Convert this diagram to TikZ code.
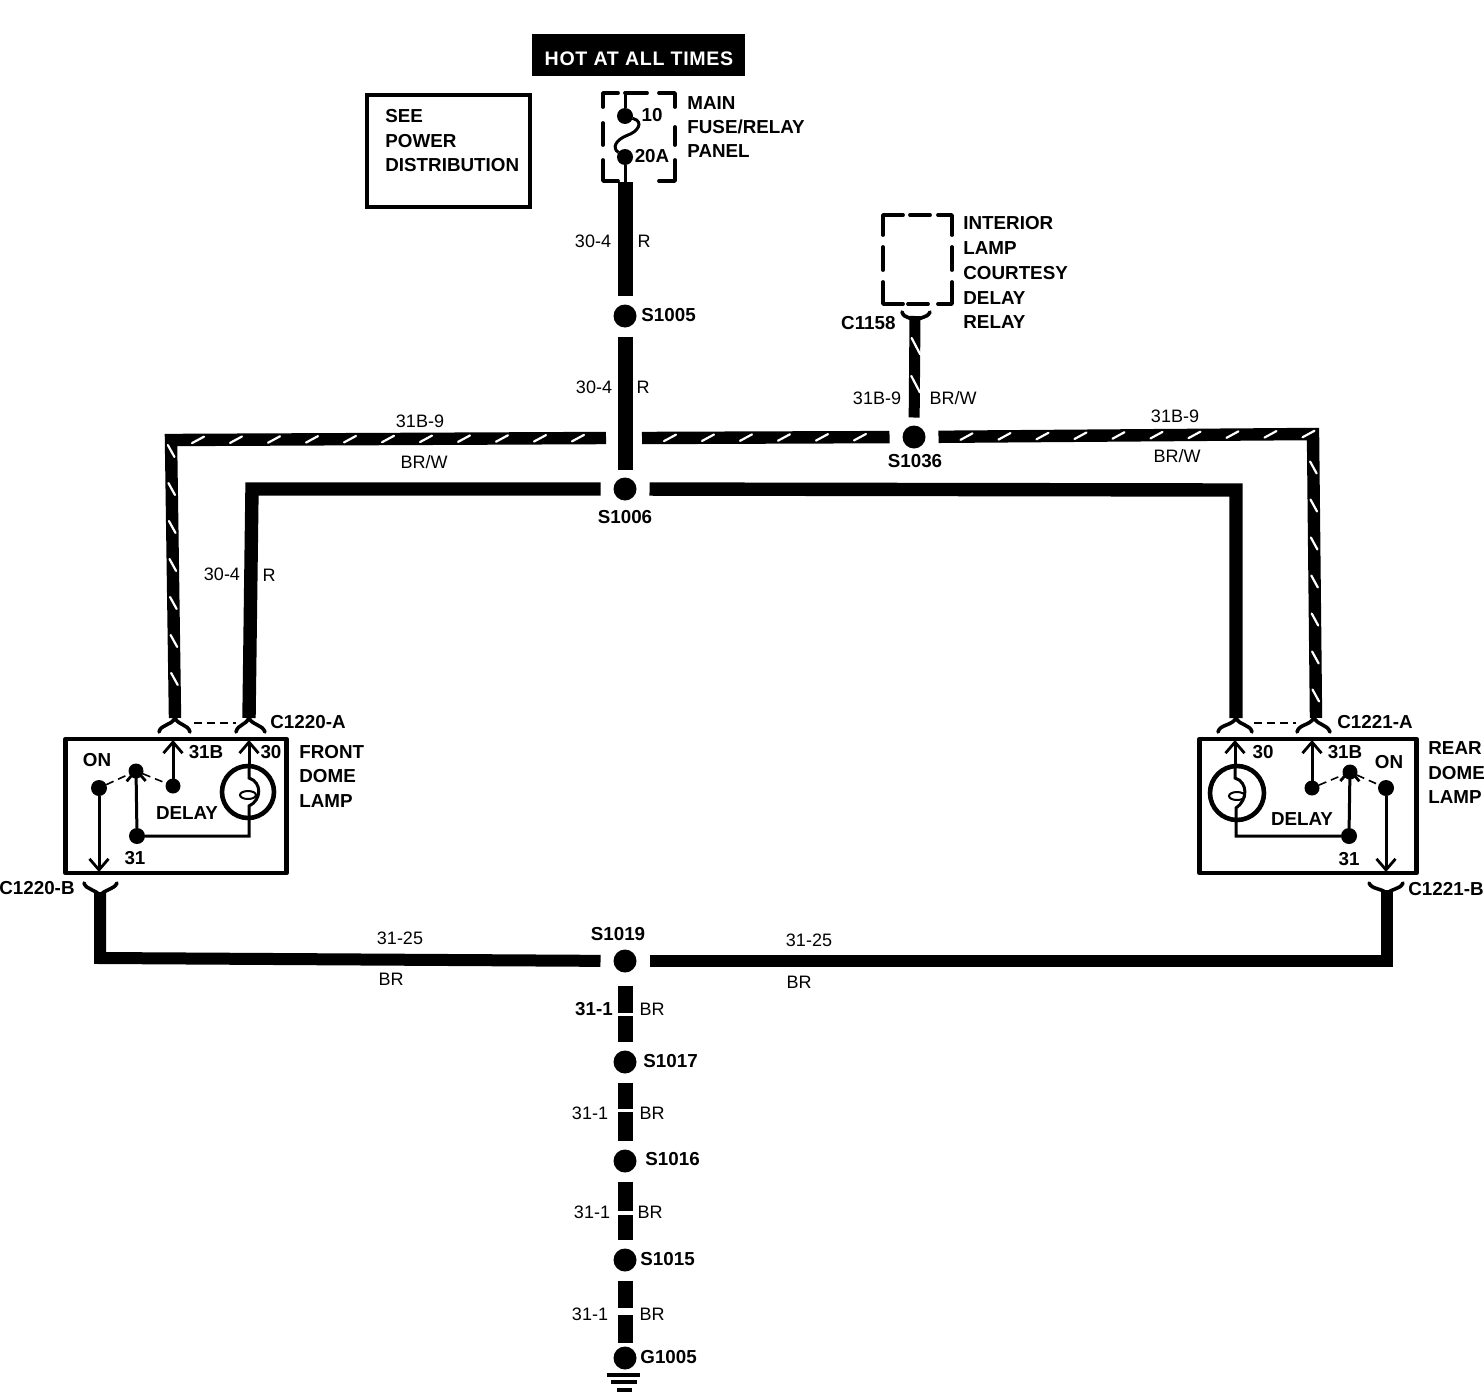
\documentclass[tikz,border=0pt]{standalone}
\usepackage{fontspec}
\setmainfont{Liberation Sans}
\usetikzlibrary{arrows.meta,decorations.markings}
\tikzset{
  x=0.5pt,y=-0.5pt,
  wire/.style={line width=7.5pt,line join=miter},
  wireh/.style={line width=6.7pt,line join=miter},
  stripewire/.style={line width=6.2pt,line join=miter},
  wirethin/.style={line width=6pt,line join=miter},
  striped/.style={postaction={decorate},decoration={markings,
    mark=between positions 14pt and -8pt step 19pt with {\draw[white,line width=1.1pt,line cap=round] (-3pt,-1.6pt)--(3pt,1.6pt);}}},
  splice/.style={circle,fill=black,draw=none,minimum size=11.5pt,inner sep=0pt,outer sep=4.5pt},
  splicewide/.style={splice,outer sep=6.5pt},
  gdot/.style={circle,fill=black,draw=none,minimum size=8pt,inner sep=0pt,outer sep=0pt},
  fork/.style={line width=1.8pt,line cap=round},
  boxline/.style={line width=2.2pt,line join=round},
  dashbox/.style={line width=1.9pt,line cap=round,line join=round},
  inner/.style={line width=1.5pt},
  barb/.style={inner,-{Straight Barb[length=5.5pt,width=9.5pt,line width=1.4pt]}},
  link/.style={line width=0.8pt,dash pattern=on 4pt off 2.5pt},
  lb/.style={inner sep=0pt,font=\fontsize{9.4pt}{10pt}\selectfont\bfseries},
  lr/.style={inner sep=0pt,font=\fontsize{9pt}{10pt}\selectfont},
}
\begin{document}
\begin{tikzpicture}
\useasboundingbox (0,0) rectangle (1484,1392);

% header
\node[fill=black,minimum width=106.5pt,minimum height=21pt,inner sep=0pt] (hot) at (638.5,55) {};
\node[text=white,inner sep=0pt,font=\fontsize{9.8pt}{10pt}\selectfont\bfseries] (hottext) at (639,59) {\addfontfeature{LetterSpace=3.5}HOT AT ALL TIMES};
\node[draw,line width=1.8pt,minimum width=81.5pt,minimum height=56pt,inner sep=0pt] (see) at (448.5,151) {};
\node[lb,anchor=west] (see1) at (385,116) {SEE};
\node[lb,anchor=west] (see2) at (385,141) {POWER};
\node[lb,anchor=west] (see3) at (385,165) {DISTRIBUTION};

% fuse panel
\draw[dashbox] (603,107)--(603,93)--(618,93);
\draw[dashbox] (625,93)--(647,93);
\draw[dashbox] (659,93)--(675,93)--(675,107);
\draw[dashbox] (603,123)--(603,145);
\draw[dashbox] (675,127)--(675,145);
\draw[dashbox] (603,160)--(603,181)--(618,181);
\draw[dashbox] (659,181)--(675,181)--(675,160);
\node[gdot] (f10) at (625,116) {};
\node[gdot] (f20) at (625,157) {};
\coordinate (fbot) at (625,182);
\coordinate (ftop) at (625,93);
\draw[inner] (ftop)--(f10);
\draw[inner] (f10) .. controls (645,122) and (637,132) .. (628,135) .. controls (615,140) and (612,148) .. (f20);
\draw[inner] (f20)--(fbot);
\node[lb,anchor=center] (l10) at (652,115) {10};
\node[lb,anchor=center] (l20) at (652,156) {20A};
\node[lb,anchor=west] at (687,103) {MAIN};
\node[lb,anchor=west] at (687,127) {FUSE/RELAY};
\node[lb,anchor=west] at (687,151) {PANEL};

% relay box
\draw[dashbox] (883,235)--(883,215)--(903,215);
\draw[dashbox] (910,215)--(930,215);
\draw[dashbox] (938,215)--(952,215)--(952,235);
\draw[dashbox] (883,247)--(883,270);
\draw[dashbox] (952,247)--(952,270);
\draw[dashbox] (883,282)--(883,304)--(903,304);
\draw[dashbox] (908,304)--(928,304);
\draw[dashbox] (938,304)--(952,304)--(952,282);
\node[lb,anchor=west] at (963,223) {INTERIOR};
\node[lb,anchor=west] at (963,248) {LAMP};
\node[lb,anchor=west] at (963,273) {COURTESY};
\node[lb,anchor=west] at (963,298) {DELAY};
\node[lb,anchor=west] at (963,322) {RELAY};
\node[lb,anchor=east] at (896,323) {C1158};

% splices
\node[splice] (s1005) at (625,316) {};
\node[splicewide] (s1006) at (625,489) {};
\node[splicewide] (s1036) at (914,437) {};
\node[splicewide] (s1019) at (625,961) {};
\node[splice] (s1017) at (625,1062) {};
\node[splice] (s1016) at (625,1161) {};
\node[splice] (s1015) at (625,1260) {};
\node[splice,outer sep=2pt] (g1005) at (625,1358) {};

% connector points
\coordinate (c1158) at (915,316);
\coordinate (aF31) at (175,718);
\coordinate (aF30) at (249,718);
\coordinate (aR30) at (1236,718);
\coordinate (aR31) at (1316,718);
\coordinate (bF) at (100,892);
\coordinate (bR) at (1387,890);
\coordinate (jL) at (606,438);
\coordinate (jR) at (642,438);

% wires
\draw[wire] (fbot)--(s1005);
\draw[wire,shorten >=-2.5pt] (s1005)--(s1006);
\draw[wireh] (s1006)--(252,489)--(aF30);
\draw[wireh] (s1006)--(1236,490)--(aR30);
\draw[stripewire,striped] (jL)--(171,440)--(aF31);
\draw[stripewire,striped] (jR)--(s1036);
\draw[stripewire,striped] (s1036)--(1313,434)--(aR31);
\draw[line width=5.5pt,striped,shorten >=-2.5pt] (c1158)--(s1036);
\draw[wirethin] (bF)--(100,958)--(s1019);
\draw[wirethin] (bR)--(1387,961)--(s1019);
\draw[wire] (s1019)--(s1017);
\draw[wire] (s1017)--(s1016);
\draw[wire] (s1016)--(s1015);
\draw[wire] (s1015)--(g1005);
% notches in the lower wires
\foreach \y/\t in {1014.5/1.5pt,1110/1.5pt,1213/2pt,1311/3.5pt}
  \draw[white,line width=\t] (615,\y)--(635,\y);

% forks
\draw[fork] (159,732) .. controls (161,724) and (171,726) .. (175,718) .. controls (179,726) and (188,724) .. (190,732);
\draw[fork] (236,732) .. controls (238,724) and (245,726) .. (249,718) .. controls (253,726) and (262,724) .. (265,732);
\draw[fork] (1218,732) .. controls (1220,724) and (1232,726) .. (1236,718) .. controls (1240,726) and (1250,724) .. (1252,732);
\draw[fork] (1297,732) .. controls (1299,724) and (1309,726) .. (1314,718) .. controls (1319,726) and (1327,724) .. (1330,732);
\draw[fork] (84,883) .. controls (86,890) and (96,889) .. (100,896) .. controls (104,889) and (114,890) .. (117,883);
\draw[fork] (1369,883) .. controls (1372,890) and (1383,888) .. (1387,894) .. controls (1391,888) and (1400,890) .. (1403,883);
\draw[fork] (902,312) .. controls (904,319) and (911,316) .. (915,322) .. controls (919,316) and (927,319) .. (930,312);
\draw[link] (194,723)--(236,723);
\draw[link] (1254,723)--(1296,723);

% front dome lamp
\node[draw,boxline,minimum width=110.5pt,minimum height=67pt,inner sep=0pt] (front) at (176,806) {};
\node[gdot] (fOn) at (99,788) {};
\node[gdot,minimum size=7.5pt] (fMid) at (136,771) {};
\node[gdot,minimum size=7.5pt] (f31B) at (173,786) {};
\node[gdot] (f31) at (137,836) {};
\node[circle,draw,line width=2.3pt,minimum size=26pt,inner sep=0pt,outer sep=0pt] (fLamp) at (248,792) {};
\coordinate (fa31B) at (173,740);
\coordinate (fa30) at (249,740);
\coordinate (faOn) at (99,872);
\draw[barb] (f31B)--(fa31B);
\draw[barb] (249,768)--(fa30);
\draw[barb] (fOn)--(faOn);
\draw[barb] (f31)--(136,768);
\draw[inner] (249,766)--(249,778) .. controls (262,782) and (262,800) .. (249,806)--(249,836)--(f31);
\draw[line width=1pt] (248,795) ellipse [x radius=8,y radius=4];
\draw[link] (fOn)--(fMid);
\draw[link] (fMid)--(f31B);
\node[lb] at (206,752) {31B};
\node[lb] at (271,752) {30};
\node[lb] at (97,760) {ON};
\node[lb] at (187,813) {DELAY};
\node[lb] at (135,858) {31};
\node[lb,anchor=west] at (270,722) {C1220-A};
\node[lb,anchor=east] at (75,888) {C1220-B};
\node[lb,anchor=west] at (299,752) {FRONT};
\node[lb,anchor=west] at (299,776) {DOME};
\node[lb,anchor=west] at (299,801) {LAMP};

% rear dome lamp
\node[draw,boxline,minimum width=108.5pt,minimum height=67pt,inner sep=0pt] (rear) at (1308,806) {};
\node[gdot] (rOn) at (1386,788) {};
\node[gdot,minimum size=7.5pt] (rMid) at (1350,772) {};
\node[gdot,minimum size=7.5pt] (r31B) at (1312,788) {};
\node[gdot] (r31) at (1349,836) {};
\node[circle,draw,line width=2.3pt,minimum size=27pt,inner sep=0pt,outer sep=0pt] (rLamp) at (1237,793) {};
\coordinate (ra31B) at (1312,740);
\coordinate (ra30) at (1235,740);
\coordinate (raOn) at (1386,872);
\draw[barb] (r31B)--(ra31B);
\draw[barb] (1235,768)--(ra30);
\draw[barb] (rOn)--(raOn);
\draw[barb] (r31)--(1350,768);
\draw[inner] (1235,766)--(1235,778) .. controls (1248,782) and (1248,800) .. (1236,808)--(1236,836)--(r31);
\draw[line width=1pt] (1237,796) ellipse [x radius=8,y radius=4];
\draw[link] (r31B)--(rMid);
\draw[link] (rMid)--(rOn);
\node[lb] at (1263,752) {30};
\node[lb] at (1345,752) {31B};
\node[lb] at (1389,762) {ON};
\node[lb] at (1302,819) {DELAY};
\node[lb] at (1349,859) {31};
\node[lb,anchor=west] at (1337,722) {C1221-A};
\node[lb,anchor=west] at (1408,889) {C1221-B};
\node[lb,anchor=west] at (1428,748) {REAR};
\node[lb,anchor=west] at (1428,773) {DOME};
\node[lb,anchor=west] at (1428,797) {LAMP};

% ground
\draw[line width=1.7pt] (607,1375)--(640,1375);
\draw[line width=1.7pt] (611,1382)--(637,1382);
\draw[line width=1.7pt] (617,1390)--(632,1390);

% splice labels
\node[lb,anchor=west] at (641,315) {S1005};
\node[lb] at (625,517) {S1006};
\node[lb] at (915,461) {S1036};
\node[lb] at (618,934) {S1019};
\node[lb,anchor=west] at (643,1061) {S1017};
\node[lb,anchor=west] at (645,1159) {S1016};
\node[lb,anchor=west] at (640,1259) {S1015};
\node[lb,anchor=west] at (640,1357) {G1005};

% wire labels
\node[lr] at (593,241) {30-4};
\node[lr] at (644,241) {R};
\node[lr] at (594,387) {30-4};
\node[lr] at (643,387) {R};
\node[lr] at (222,574) {30-4};
\node[lr] at (269,575) {R};
\node[lr] at (420,421) {31B-9};
\node[lr] at (424,462) {BR/W};
\node[lr] at (877,398) {31B-9};
\node[lr] at (953,398) {BR/W};
\node[lr] at (1175,416) {31B-9};
\node[lr] at (1177,456) {BR/W};
\node[lr] at (400,938) {31-25};
\node[lr] at (391,979) {BR};
\node[lr] at (809,940) {31-25};
\node[lr] at (799,982) {BR};
\node[lb] at (594,1009) {31-1};
\node[lr] at (652,1009) {BR};
\node[lr] at (590,1113) {31-1};
\node[lr] at (652,1113) {BR};
\node[lr] at (592,1212) {31-1};
\node[lr] at (650,1212) {BR};
\node[lr] at (590,1314) {31-1};
\node[lr] at (652,1314) {BR};
\end{tikzpicture}
\end{document}
